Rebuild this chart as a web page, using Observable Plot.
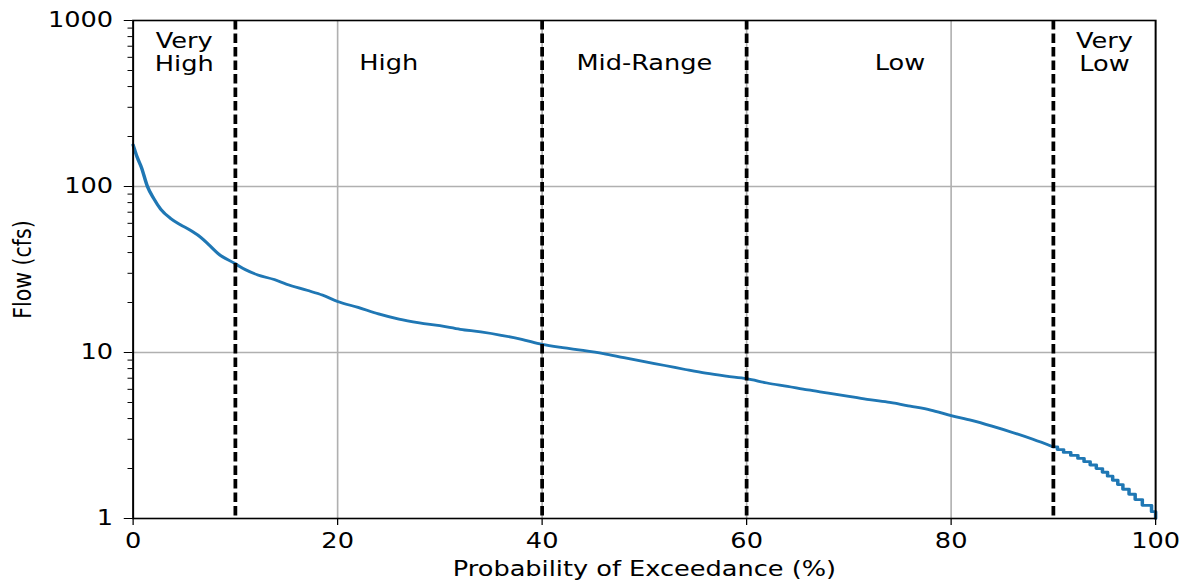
<!DOCTYPE html>
<html><head><meta charset="utf-8">
<script src="https://cdn.jsdelivr.net/npm/d3@7"></script>
<script src="https://cdn.jsdelivr.net/npm/@observablehq/plot@0.6"></script>
<style>body{margin:0;background:#fff} svg{display:block}</style>
</head><body><div id="chart"></div>
<script>
// Flow duration curve: probability of exceedance (%) vs flow (cfs)
const exceedance = [0, 0.4, 0.8, 1.4, 2.0, 2.7, 3.7, 4.6, 5.7, 6.6, 7.5, 8.3, 9.9, 11, 12.2, 13.8, 15, 17, 18.5, 20, 22, 24, 26, 28, 30, 32, 34, 36, 38, 40, 42, 44, 46, 48, 50, 52, 54, 56, 58, 60, 62, 64, 66, 68, 70, 72, 74, 76, 78, 80, 82, 84, 86, 88, 90];
const flow = [178, 150, 131, 100, 85, 73, 64, 59, 54, 49.5, 44, 39.5, 34.5, 31.5, 29.3, 27.5, 25.8, 23.7, 22.2, 20.3, 18.7, 17.1, 15.9, 15.1, 14.5, 13.8, 13.3, 12.7, 12.0, 11.2, 10.7, 10.3, 9.85, 9.3, 8.8, 8.35, 7.9, 7.5, 7.2, 6.95, 6.55, 6.25, 5.95, 5.7, 5.45, 5.2, 5.0, 4.75, 4.5, 4.17, 3.9, 3.6, 3.3, 3.0, 2.7];
// Stair-stepped low-flow tail (flows recorded to 0.1 cfs)
const tailExceedance = [90, 90.4, 91.0, 91.7, 92.4, 93.0, 93.6, 94.2, 94.8, 95.3, 95.8, 96.3, 96.8, 97.4, 98.0, 98.7, 99.6, 100];
const tailFlow = [2.7, 2.6, 2.5, 2.4, 2.3, 2.2, 2.1, 2.0, 1.9, 1.8, 1.7, 1.6, 1.5, 1.4, 1.3, 1.2, 1.1, 1.0];

const boundaries = [10, 40, 60, 90];
const zoneNames = ["Very\nHigh", "High", "Mid-Range", "Low", "Very\nLow"];
const zoneCenters = [5, 25, 50, 75, 95];
const xTicks = [0, 20, 40, 60, 80, 100];
const yTicks = [1, 10, 100, 1000];
const yMinorTicks = [1, 10, 100].flatMap(d => [2, 3, 4, 5, 6, 7, 8, 9].map(k => k * d));
const xGrid = [20, 40, 60, 80];
const yGrid = [10, 100];

const main = exceedance.map((p, i) => ({p, q: flow[i]}));
const tail = tailExceedance.map((p, i) => ({p, q: tailFlow[i]}));
const zones = zoneNames.map((name, i) => ({name, c: zoneCenters[i], two: name.includes("\n")}));

const W = 948, H = 581;
const chart = Plot.plot({
  width: W, height: H,
  marginLeft: 106, marginRight: 24, marginTop: 20, marginBottom: 63,
  x: {domain: [0, 100]},
  y: {type: "log", domain: [1, 1000]},
  style: {fontFamily: "DejaVu Sans", fontSize: "20.5px", color: "#000", background: "#fff", overflow: "visible"},
  marks: [
    Plot.ruleX(xGrid, {stroke: "#b0b0b0", strokeWidth: 1.3}),
    Plot.ruleY(yGrid, {stroke: "#b0b0b0", strokeWidth: 1.6}),
    Plot.line(main, {x: "p", y: "q", curve: "monotone-x", stroke: "#1f77b4", strokeWidth: 2.8}),
    Plot.line(tail, {x: "p", y: "q", curve: "step-after", stroke: "#1f77b4", strokeWidth: 2.8}),
    Plot.ruleX(boundaries, {stroke: "#000", strokeWidth: 3, strokeDasharray: "9.5,4"}),
    Plot.text(zones.filter(d => d.two), {x: "c", text: "name", frameAnchor: "top", lineAnchor: "top", dy: 10.5, lineHeight: 1.15, fill: "#000"}),
    Plot.text(zones.filter(d => !d.two), {x: "c", text: "name", frameAnchor: "top", lineAnchor: "top", dy: 34.5, fill: "#000"}),
    Plot.axisY(yMinorTicks, {tickSize: 4, tickFormat: () => "", label: null}),
    Plot.axisY(yTicks, {tickSize: 7, tickPadding: 9, tickFormat: d => String(d), label: "Flow (cfs)", labelAnchor: "center", labelOffset: 96, labelArrow: "none"}),
    Plot.axisX(xTicks, {tickSize: 7, tickPadding: 8, tickFormat: d => String(d), label: "Probability of Exceedance (%)", labelAnchor: "center", labelOffset: 57, labelArrow: "none"}),
    Plot.frame({stroke: "#000", strokeWidth: 1.6})
  ]
});
// The reference is horizontally stretched (~1.25x); reproduce by stretching the SVG viewBox.
chart.setAttribute("width", 1185);
chart.setAttribute("preserveAspectRatio", "none");
document.getElementById("chart").appendChild(chart);
</script>
</body></html>
